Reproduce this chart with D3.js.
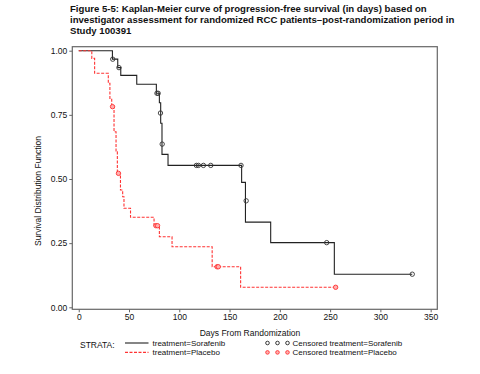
<!DOCTYPE html>
<html>
<head>
<meta charset="utf-8">
<script src="https://cdn.jsdelivr.net/npm/d3@7"></script>
<style>
  body { margin: 0; background: #fff; }
  svg { font-family: "Liberation Sans", Arial, sans-serif; }
</style>
</head>
<body>
<script>
// Kaplan-Meier step points (time in days, survival after the step)
var sorafenibTime = [0, 33.5, 38.8, 41.8, 57.7, 77.2, 80.2, 81.5, 82.8, 88.8, 162, 165.8, 190.9, 254.2, 331.7];
var sorafenibSurv = [1, 0.967, 0.934, 0.904, 0.869, 0.834, 0.797, 0.717, 0.596, 0.553, 0.487, 0.332, 0.252, 0.129, 0.129];
var sorafenibCensorTime = [33.8, 40, 77.8, 79, 81.3, 83, 117, 119, 124, 131.3, 161.4, 166.5, 246.6, 331.7];
var sorafenibCensorSurv = [0.967, 0.934, 0.834, 0.834, 0.757, 0.636, 0.553, 0.553, 0.553, 0.553, 0.553, 0.415, 0.252, 0.129];

var placeboTime = [0, 13, 15.8, 29.4, 31, 32.8, 35.1, 37.1, 38.4, 41.5, 43.7, 45, 51.5, 74.9, 80.2, 92.8, 132.7, 161, 255.5];
var placeboSurv = [1, 0.97, 0.912, 0.873, 0.814, 0.782, 0.684, 0.606, 0.522, 0.457, 0.431, 0.386, 0.351, 0.318, 0.275, 0.236, 0.158, 0.078, 0.078];
var placeboCensorTime = [33.6, 39.5, 76.8, 78.4, 137.6, 138.8, 255.5];
var placeboCensorSurv = [0.782, 0.522, 0.318, 0.318, 0.158, 0.158, 0.078];

var xTicks = [0, 50, 100, 150, 200, 250, 300, 350];
var yTicks = [0, 0.25, 0.5, 0.75, 1];

var titleLines = [
  "Figure 5-5:  Kaplan-Meier curve of progression-free survival (in days) based on",
  "investigator assessment for randomized RCC patients\u2013post-randomization period in",
  "Study 100391"
];

var width = 480, height = 374;
var frame = {left: 72.3, right: 437.3, top: 46.7, bottom: 309.3};

var svg = d3.select('body').append('svg')
  .attr('width', width)
  .attr('height', height);

svg.append('rect').attr('width', width).attr('height', height).attr('fill', '#fff');

// title
svg.append('g').selectAll('text')
  .data(titleLines)
  .enter().append('text')
  .attr('x', 70)
  .attr('y', function(d, i) { return 11.8 + i * 10.9; })
  .attr('font-size', '9.6px')
  .attr('font-weight', 'bold')
  .attr('fill', '#111')
  .text(function(d) { return d; });

var x = d3.scaleLinear().domain([-6.4, 356.6]).range([frame.left, frame.right]);
var y = d3.scaleLinear().domain([-0.0078, 1.0156]).range([frame.bottom, frame.top]);

// frame
svg.append('rect')
  .attr('x', frame.left).attr('y', frame.top)
  .attr('width', frame.right - frame.left)
  .attr('height', frame.bottom - frame.top)
  .attr('fill', 'none').attr('stroke', '#666').attr('stroke-width', 1.2);

var xAxis = svg.append('g')
  .attr('transform', 'translate(0,' + frame.bottom + ')')
  .call(d3.axisBottom(x).tickValues(xTicks).tickSize(3).tickPadding(2).tickFormat(d3.format('d')));
var yAxis = svg.append('g')
  .attr('transform', 'translate(' + frame.left + ',0)')
  .call(d3.axisLeft(y).tickValues(yTicks).tickSize(3).tickPadding(2).tickFormat(d3.format('.2f')));

[xAxis, yAxis].forEach(function(a) {
  a.select('.domain').remove();
  a.selectAll('line').attr('stroke', '#666');
  a.selectAll('text').attr('font-size', '8.5px').attr('fill', '#111').attr('font-family', null);
});

svg.append('text')
  .attr('x', 250).attr('y', 336)
  .attr('text-anchor', 'middle')
  .attr('font-size', '8.5px').attr('fill', '#111')
  .text('Days From Randomization');

svg.append('text')
  .attr('transform', 'translate(41,191) rotate(-90)')
  .attr('text-anchor', 'middle')
  .attr('font-size', '8.5px').attr('fill', '#111')
  .text('Survival Distribution Function');

var line = d3.line()
  .x(function(d) { return x(d[0]); })
  .y(function(d) { return y(d[1]); })
  .curve(d3.curveStepAfter);

var sorafenib = d3.zip(sorafenibTime, sorafenibSurv);
var placebo = d3.zip(placeboTime, placeboSurv);

svg.append('path')
  .datum(sorafenib)
  .attr('d', line)
  .attr('fill', 'none')
  .attr('stroke', '#222')
  .attr('stroke-width', 1.1);

svg.append('path')
  .datum(placebo)
  .attr('d', line)
  .attr('fill', 'none')
  .attr('stroke', '#ff3333')
  .attr('stroke-width', 1.1)
  .attr('stroke-dasharray', '3,1.5');

svg.append('g').selectAll('circle')
  .data(d3.zip(sorafenibCensorTime, sorafenibCensorSurv))
  .enter().append('circle')
  .attr('cx', function(d) { return x(d[0]); })
  .attr('cy', function(d) { return y(d[1]); })
  .attr('r', 2.2)
  .attr('fill', 'none')
  .attr('stroke', '#333')
  .attr('stroke-width', 0.9);

svg.append('g').selectAll('circle')
  .data(d3.zip(placeboCensorTime, placeboCensorSurv))
  .enter().append('circle')
  .attr('cx', function(d) { return x(d[0]); })
  .attr('cy', function(d) { return y(d[1]); })
  .attr('r', 2.2)
  .attr('fill', '#ffb0b0')
  .attr('stroke', '#ff3333')
  .attr('stroke-width', 0.9);

// legend (rows a little further apart than the source so the labels don't collide)
var legend = svg.append('g').attr('font-size', '8px').attr('fill', '#111');
legend.append('text').attr('x', 80).attr('y', 347.5).attr('font-size', '8.5px').text('STRATA:');

var legendRows = [
  {label: 'treatment=Sorafenib', censor: 'Censored treatment=Sorafenib', stroke: '#222', dash: null, fill: 'none', y: 343},
  {label: 'treatment=Placebo', censor: 'Censored treatment=Placebo', stroke: '#ff3333', dash: '3,1.5', fill: '#ffb0b0', y: 352.4}
];

legendRows.forEach(function(r) {
  legend.append('line')
    .attr('x1', 125).attr('x2', 148.5)
    .attr('y1', r.y).attr('y2', r.y)
    .attr('stroke', r.stroke).attr('stroke-width', 1.1)
    .attr('stroke-dasharray', r.dash);
  legend.append('text').attr('x', 152.5).attr('y', r.y + 2.9).text(r.label);
  [267.5, 277.5, 287.5].forEach(function(cx) {
    legend.append('circle')
      .attr('cx', cx).attr('cy', r.y).attr('r', 1.8)
      .attr('fill', r.fill).attr('stroke', r.stroke).attr('stroke-width', 0.9);
  });
  legend.append('text').attr('x', 292.5).attr('y', r.y + 2.9).text(r.censor);
});
</script>
</body>
</html>
